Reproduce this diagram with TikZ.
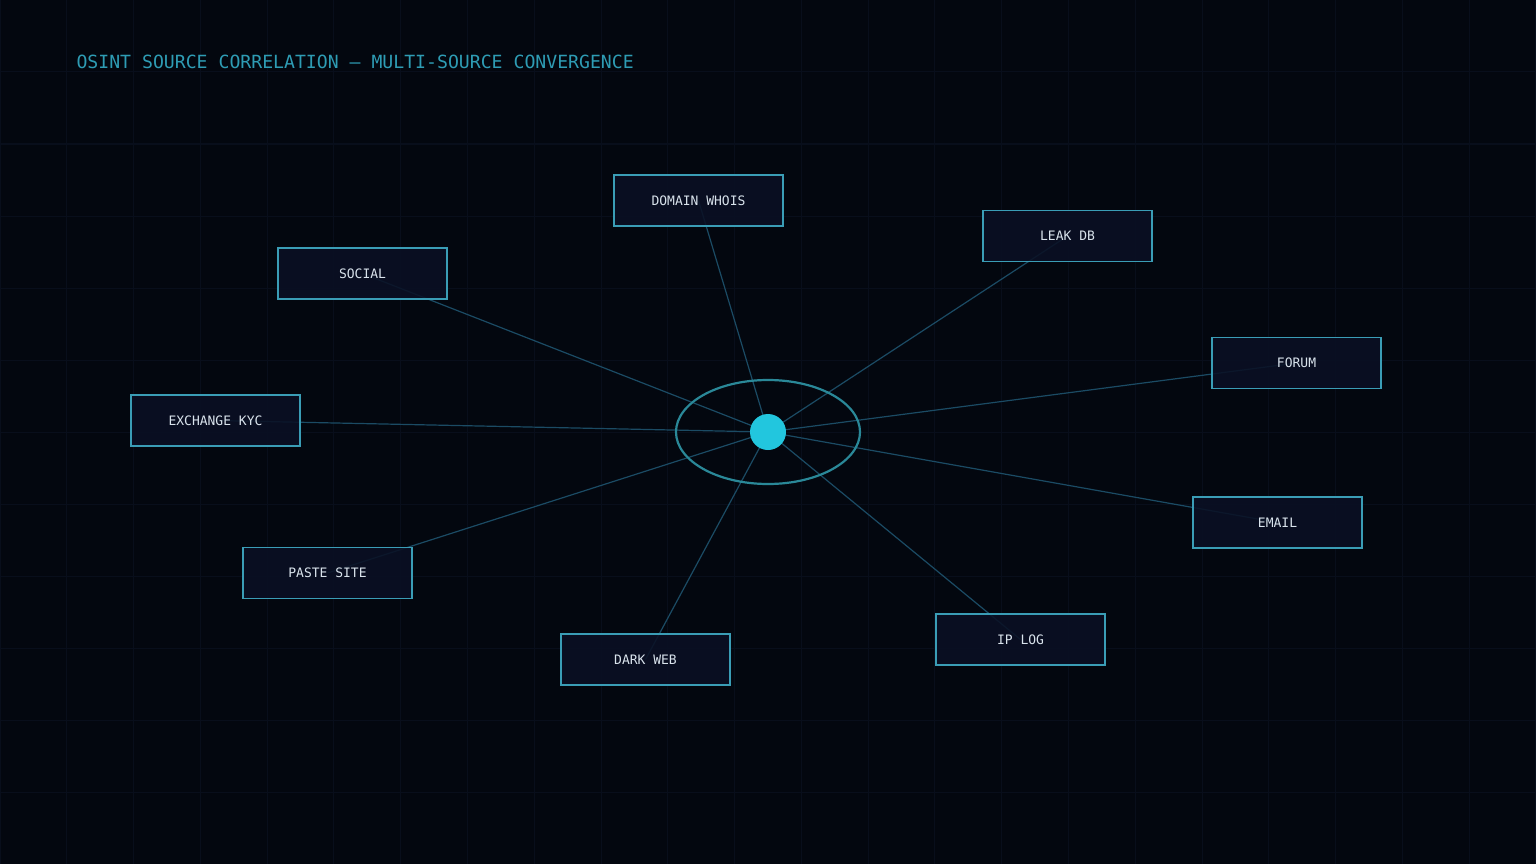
\documentclass[tikz,border=0pt]{standalone}
\usepackage{fontspec}
\setmonofont{DejaVu Sans Mono}
\definecolor{bgdark}{HTML}{03070F}
\definecolor{gridc}{HTML}{080E1B}
\definecolor{boxfill}{HTML}{0A1024}
\definecolor{boxline}{HTML}{3A9DB6}
\definecolor{linkc}{HTML}{1B4B64}
\definecolor{titlec}{HTML}{2E9CB4}
\definecolor{hubc}{HTML}{22C6DE}
\definecolor{ringc}{HTML}{2A8898}
\definecolor{labelc}{HTML}{D9E3EC}
\tikzset{
  source/.style={draw=boxline, line width=1.6pt, fill=boxfill, fill opacity=0.88, text opacity=1,
    minimum width=169pt, minimum height=51pt, inner sep=0pt, text=labelc,
    font=\ttfamily\fontsize{13}{13}\selectfont},
  link/.style={draw=linkc, line width=1.2pt},
  gridline/.style={draw=gridc, line width=1pt}
}
\begin{document}
\begin{tikzpicture}[x=1pt, y=-1pt]
\fill[bgdark] (0,0) rectangle (1536,864);
\useasboundingbox (0,0) rectangle (1536,864);
\foreach \i in {0,...,23}
  \draw[gridline] ({\i*66.78},0) -- ({\i*66.78},864);
\foreach \j in {0,...,12}
  \draw[gridline] (0,{\j*72}) -- (1536,{\j*72});
\node[anchor=base west, text=titlec, font=\ttfamily\fontsize{18.15}{18.15}\selectfont] (title) at (73,69) {OSINT SOURCE CORRELATION — MULTI-SOURCE CONVERGENCE};
\coordinate (hub) at (768,432);
\foreach \n/\x/\y in {whois/698.5/200.5, leak/1067.5/236, social/362.5/273.5, forum/1296.5/363,
  kyc/215.5/420.5, email/1277.5/522.5, paste/327.5/573, darkweb/645.5/659.5, iplog/1020.5/639.5}
  \draw[link] (hub) -- (\x,\y);
\node[source] (whois) at (698.5,200.5) {DOMAIN WHOIS};
\node[source] (leak) at (1067.5,236) {LEAK DB};
\node[source] (social) at (362.5,273.5) {SOCIAL};
\node[source] (forum) at (1296.5,363) {FORUM};
\node[source] (kyc) at (215.5,420.5) {EXCHANGE KYC};
\node[source] (email) at (1277.5,522.5) {EMAIL};
\node[source] (paste) at (327.5,573) {PASTE SITE};
\node[source] (darkweb) at (645.5,659.5) {DARK WEB};
\node[source] (iplog) at (1020.5,639.5) {IP LOG};
\draw[ringc, line width=2.2pt] (hub) ellipse (92 and 52);
\fill[hubc] (hub) circle (18);
\end{tikzpicture}
\end{document}
